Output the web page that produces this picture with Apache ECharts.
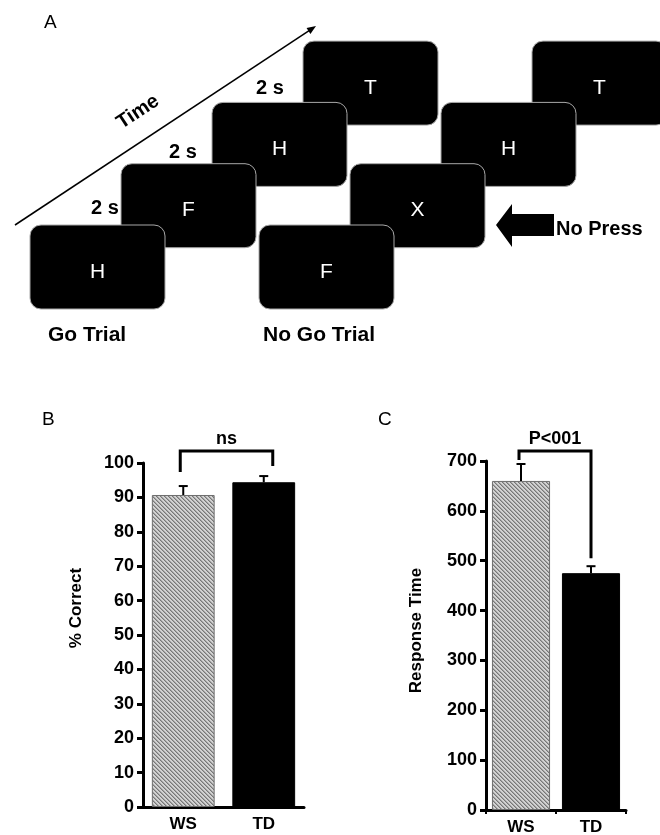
<!DOCTYPE html>
<html>
<head>
<meta charset="utf-8">
<script src="https://cdn.jsdelivr.net/npm/echarts@6/dist/echarts.min.js"></script>
<style>
html,body{margin:0;padding:0;background:#fff;}
#chart{width:660px;height:835px;}
</style>
</head>
<body>
<div id="chart"></div>
<script>
// ---- data ----
const categories = ['WS', 'TD'];
const correctMean = [90.7, 94.4];
const correctUpper = [93.3, 96.2];
const rtMean = [660, 475];
const rtUpper = [694, 489];
const correctTicks = { min: 0, max: 100, interval: 10 };
const rtTicks = { min: 0, max: 700, interval: 100 };
const goLetters = ['H', 'F', 'H', 'T'];
const noGoLetters = ['F', 'X', 'H', 'T'];
const sigLabels = ['ns', 'P<001'];
// bracket: [leftCat, top, leftEnd, rightCat, rightEnd]
const correctBracket = [0, 103.5, 97.4, 1, 99.1];
const rtBracket = [0, 720, 702, 1, 505];

// ---- style helpers ----
const FONT = 'Liberation Sans, Arial, sans-serif';
function hatch() {
  const c = document.createElement('canvas');
  c.width = 4; c.height = 4;
  const g = c.getContext('2d');
  g.fillStyle = '#d2d2d2'; g.fillRect(0, 0, 4, 4);
  for (let y = 0; y < 4; y++) for (let x = 0; x < 4; x++) {
    const d = ((x - y) % 4 + 4) % 4;
    if (d === 0) { g.fillStyle = '#777'; g.fillRect(x, y, 1, 1); }
    if (d === 1) { g.fillStyle = '#a4a4a4'; g.fillRect(x, y, 1, 1); }
  }
  return c;
}
const hatchPattern = { image: hatch(), repeat: 'repeat' };

function barData(vals) {
  return vals.map((v, i) => ({
    value: v,
    itemStyle: i === 0
      ? { color: hatchPattern, borderColor: '#6e6e6e', borderWidth: 1 }
      : { color: '#000', borderColor: '#000', borderWidth: 1 }
  }));
}
function errData(means, uppers) {
  return means.map((m, i) => [i, m, uppers[i]]);
}
function errRender(params, api) {
  const b = api.coord([api.value(0), api.value(1)]);
  const t = api.coord([api.value(0), api.value(2)]);
  return {
    type: 'group', children: [
      { type: 'line', shape: { x1: b[0], y1: b[1], x2: t[0], y2: t[1] }, style: { stroke: '#000', lineWidth: 2 } },
      { type: 'line', shape: { x1: t[0] - 4.5, y1: t[1], x2: t[0] + 4.5, y2: t[1] }, style: { stroke: '#000', lineWidth: 2 } }
    ]
  };
}
function bracketRender(label, offL, offR) {
  return function (params, api) {
    const l = api.coord([api.value(0), api.value(1)]);
    const le = api.coord([api.value(0), api.value(2)]);
    const r = api.coord([api.value(3), api.value(1)]);
    const re = api.coord([api.value(3), api.value(4)]);
    const xl = l[0] + offL, xr = r[0] + offR;
    return {
      type: 'group', children: [
        { type: 'polyline', shape: { points: [[xl, le[1]], [xl, l[1]], [xr, l[1]], [xr, re[1]]] },
          style: { stroke: '#000', lineWidth: 3, fill: null } },
        { type: 'text', style: { text: label, x: (xl + xr) / 2, y: l[1] - 12, textAlign: 'center', textVerticalAlign: 'middle',
          font: 'bold 18px ' + FONT, fill: '#000' } }
      ]
    };
  };
}
function yAxisCfg(gridIndex, ticks, name, namePad, nameGap) {
  return {
    type: 'value', gridIndex, min: ticks.min, max: ticks.max, interval: ticks.interval,
    name, nameLocation: 'middle', nameGap, nameRotate: 90,
    nameTextStyle: { fontFamily: FONT, fontWeight: 'bold', fontSize: 17, color: '#000', padding: namePad },
    axisLine: { show: true, lineStyle: { color: '#000', width: 3 } },
    axisTick: { show: true, length: 6, lineStyle: { color: '#000', width: 3 } },
    axisLabel: { fontFamily: FONT, fontWeight: 'bold', fontSize: 18, color: '#000', margin: 9 },
    splitLine: { show: false }
  };
}
function xAxisCfg(gridIndex, showTick) {
  return {
    type: 'category', gridIndex, data: categories,
    axisLine: { show: true, lineStyle: { color: '#000', width: 3 } },
    axisTick: { show: showTick, length: 4, lineStyle: { color: '#000', width: 2 } },
    axisLabel: { fontFamily: FONT, fontWeight: 'bold', fontSize: 17, color: '#000', margin: 9 }
  };
}

// ---- panel A schematic ----
const graphics = [];
function txt(text, x, y, size, weight, fill, align, extra) {
  return Object.assign({
    type: 'text', x, y,
    style: { text, x: 0, y: 0, font: (weight ? weight + ' ' : '') + size + 'px ' + FONT, fill: fill || '#000',
      textAlign: align || 'left', textVerticalAlign: 'middle' }
  }, extra || {});
}
const boxW = 135, boxH = 84, stepX = 91, stepY = 61.3;
function boxes(letters, x0, y0) {
  for (let i = letters.length - 1; i >= 0; i--) {
    const bx = x0 + i * stepX, by = y0 - i * stepY;
    graphics.push({ type: 'rect', shape: { x: bx, y: by, width: boxW, height: boxH, r: 11 },
      style: { fill: '#000', stroke: '#a8a8a8', lineWidth: 1 } });
    graphics.push(txt(letters[i], bx + boxW / 2, by + 47, 21, '', '#fff', 'center'));
  }
}
boxes(goLetters, 30, 225);
boxes(noGoLetters, 259, 225);

// time arrow
const ax1 = 15, ay1 = 225, ax2 = 316, ay2 = 26;
const len = Math.hypot(ax2 - ax1, ay2 - ay1);
const ux = (ax2 - ax1) / len, uy = (ay2 - ay1) / len;
graphics.push({ type: 'line', shape: { x1: ax1, y1: ay1, x2: ax2 - ux * 6, y2: ay2 - uy * 6 }, style: { stroke: '#000', lineWidth: 1.5 } });
const bxp = ax2 - ux * 9, byp = ay2 - uy * 9;
graphics.push({ type: 'polygon', shape: { points: [[ax2, ay2], [bxp + uy * 3.5, byp - ux * 3.5], [bxp - uy * 3.5, byp + ux * 3.5]] }, style: { fill: '#000' } });
graphics.push(txt('Time', 138, 112, 20, 'bold', '#000', 'center', { rotation: Math.atan2(ay1 - ay2, ax2 - ax1) }));
graphics.push(txt('2 s', 105, 208, 20, 'bold', '#000', 'center'));
graphics.push(txt('2 s', 183, 152, 20, 'bold', '#000', 'center'));
graphics.push(txt('2 s', 270, 88, 20, 'bold', '#000', 'center'));

// No Press arrow
graphics.push({ type: 'polygon', shape: { points: [[496, 225], [512, 204], [512, 214], [554, 214], [554, 236], [512, 236], [512, 247]] }, style: { fill: '#000' } });
graphics.push(txt('No Press', 556, 229, 20, 'bold', '#000', 'left'));
graphics.push(txt('Go Trial', 48, 335, 21, 'bold', '#000', 'left'));
graphics.push(txt('No Go Trial', 263, 335, 21, 'bold', '#000', 'left'));
graphics.push(txt('A', 44, 23, 19, '', '#000', 'left'));
graphics.push(txt('B', 42, 420, 19, '', '#000', 'left'));
graphics.push(txt('C', 378, 420, 19, '', '#000', 'left'));

const chart = echarts.init(document.getElementById('chart'), null, { renderer: 'canvas' });
chart.setOption({
  animation: false,
  backgroundColor: '#fff',
  textStyle: { fontFamily: FONT },
  grid: [
    { left: 143, top: 463, width: 161, height: 344, outerBoundsMode: 'none', containLabel: false },
    { left: 486, top: 461, width: 140, height: 349, outerBoundsMode: 'none', containLabel: false }
  ],
  xAxis: [xAxisCfg(0, false), xAxisCfg(1, true)],
  yAxis: [
    yAxisCfg(0, correctTicks, '% Correct', [0, 0, 0, 54], 58),
    yAxisCfg(1, rtTicks, 'Response Time', [0, 0, 0, 10], 61)
  ],
  series: [
    { type: 'bar', xAxisIndex: 0, yAxisIndex: 0, data: barData(correctMean), barCategoryGap: '22%', z: 2 },
    { type: 'bar', xAxisIndex: 1, yAxisIndex: 1, data: barData(rtMean), barCategoryGap: '17%', z: 2 },
    { type: 'custom', xAxisIndex: 0, yAxisIndex: 0, data: errData(correctMean, correctUpper), renderItem: errRender, z: 3, encode: { x: 0, y: [1, 2] } },
    { type: 'custom', xAxisIndex: 1, yAxisIndex: 1, data: errData(rtMean, rtUpper), renderItem: errRender, z: 3, encode: { x: 0, y: [1, 2] } },
    { type: 'custom', xAxisIndex: 0, yAxisIndex: 0, data: [correctBracket], renderItem: bracketRender(sigLabels[0], -3, 9), clip: false, z: 4, encode: { x: [0, 3], y: [1, 2, 4] } },
    { type: 'custom', xAxisIndex: 1, yAxisIndex: 1, data: [rtBracket], renderItem: bracketRender(sigLabels[1], -2, 0), clip: false, z: 4, encode: { x: [0, 3], y: [1, 2, 4] } }
  ],
  graphic: graphics
});
</script>
</body>
</html>
